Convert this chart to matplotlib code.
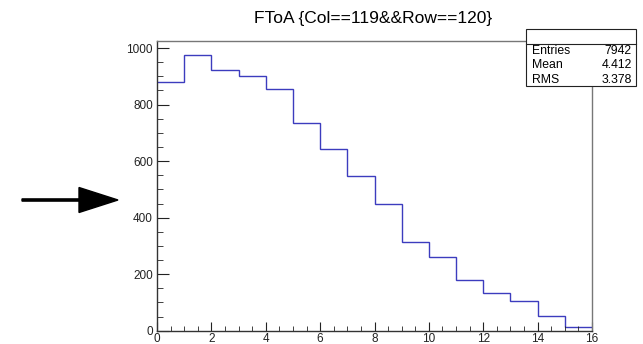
import numpy as np
import matplotlib
matplotlib.use("Agg")
import matplotlib.pyplot as plt
from matplotlib.patches import Rectangle, FancyArrow
from matplotlib.ticker import MultipleLocator

plt.rcParams['font.family'] = ['Liberation Sans', 'DejaVu Sans']

# histogram contents, one bin per unit from 0 to 16
bin_edges = np.arange(0, 17)
counts = [879, 976, 921, 900, 854, 734, 643, 546, 447, 313, 261, 179, 132, 105, 51, 13]

title = "FToA {Col==119&&Row==120}"
stat_names = ["Entries", "Mean", "RMS"]
stat_values = ["7942", "4.412", "3.378"]

W, H = 643, 344
fig = plt.figure(figsize=(W / 100, H / 100), dpi=100)
ax = fig.add_axes([157 / W, 1 - 330.7 / H, (592 - 157) / W, (330.7 - 40.7) / H])

ax.stairs(counts, bin_edges, baseline=None, color='#3c3cbe', linewidth=1.0)

ax.set_xlim(0, 16)
ax.set_ylim(0, 1026)
ax.xaxis.set_major_locator(MultipleLocator(2))
ax.xaxis.set_minor_locator(MultipleLocator(0.5))
ax.yaxis.set_major_locator(MultipleLocator(200))
ax.yaxis.set_minor_locator(MultipleLocator(50))
ax.tick_params(axis='both', which='both', direction='in', labelsize=8.5, colors='#222222')
ax.tick_params(axis='y', which='major', length=8.5, pad=3)
ax.tick_params(axis='y', which='minor', length=4.3)
ax.tick_params(axis='x', which='major', length=6.5, pad=2)
ax.tick_params(axis='x', which='minor', length=3.6)
for s in ax.spines.values():
    s.set_color('#777777')
    s.set_linewidth(1.0)
ax.spines['left'].set_color('#333333')
ax.spines['bottom'].set_color('#333333')

fig.text(373 / W, 1 - 18 / H, title, ha='center', va='center', fontsize=12.5)

# statistics box with empty header row
bx0, bx1, by0, by1 = 526, 636, 29, 86
fig.patches.append(Rectangle((bx0 / W, 1 - by1 / H), (bx1 - bx0) / W, (by1 - by0) / H,
                             transform=fig.transFigure, facecolor='white',
                             edgecolor='#222222', linewidth=0.8, zorder=5))
fig.lines.append(plt.Line2D([bx0 / W, bx1 / W], [1 - 44.3 / H, 1 - 44.3 / H],
                            transform=fig.transFigure, color='#222222', linewidth=0.8, zorder=6))
row_y = [51, 65.5, 80]
for name, val, yy in zip(stat_names, stat_values, row_y):
    fig.text(532 / W, 1 - yy / H, name, ha='left', va='center', fontsize=8.8, zorder=6)
    fig.text(632 / W, 1 - yy / H, val, ha='right', va='center', fontsize=8.8, zorder=6)

# arrow pointing at the axis
fig.patches.append(FancyArrow(22 / W, 1 - 200 / H, (118 - 22) / W, 0,
                              width=2.2 / H, head_width=25 / H,
                              head_length=39 / W, length_includes_head=True,
                              transform=fig.transFigure, color='black'))

fig.savefig("out.png", dpi=100)
